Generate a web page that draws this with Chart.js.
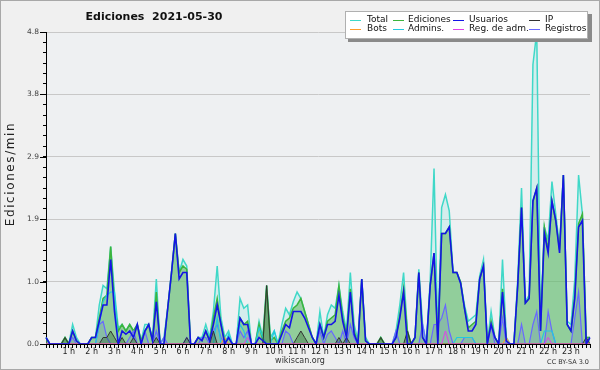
<!DOCTYPE html>
<html><head><meta charset="utf-8">
<script src="https://cdn.jsdelivr.net/npm/chart.js@4"></script>
<style>html,body{margin:0;padding:0;background:#f0f0f0;}canvas{display:block;}</style>
</head><body>
<canvas id="c" width="600" height="370"></canvas>
<script>
const chartTitle = 'Ediciones  2021-05-30';
const yAxisTitle = 'Ediciones/min';
const footerLeft = 'wikiscan.org';
const footerRight = 'CC BY-SA 3.0';
const hourLabels = ['1 h','2 h','3 h','4 h','5 h','6 h','7 h','8 h','9 h','10 h','11 h','12 h','13 h','14 h','15 h','16 h','17 h','18 h','19 h','20 h','21 h','22 h','23 h'];
const yTickLabels = ['0.0','1.0','1.9','2.9','3.8','4.8'];
const yMax = 4.8;
const yMinorPerMajor = 6;

// 10-minute slots of the day
const slots = [];
for (let h = 0; h < 24; h++) for (let m = 0; m < 60; m += 10) slots.push(h + ':' + String(m).padStart(2, '0'));

const total = [
 0.1,0,0,0,0,0.1,0,0.3,0.1,0,0,0,
 0.1,0.1,0.6,0.9,0.85,1.5,0.8,0.25,0.3,0.2,0.3,0.2,
 0.3,0.05,0.3,0.3,0.1,1.0,0,0.1,0.55,1.1,1.7,1.1,
 1.3,1.2,0,0,0.1,0.1,0.3,0.1,0.5,1.2,0.4,0.1,
 0.2,0,0,0.7,0.55,0.6,0,0,0.35,0.1,0.9,0.1,
 0.2,0,0.3,0.55,0.45,0.65,0.8,0.7,0.5,0.3,0.1,0,
 0.5,0.1,0.45,0.6,0.55,0.9,0.5,0.2,1.1,0.3,0.05,1.0,
 0.1,0,0,0,0.1,0,0,0,0.2,0.6,1.1,0.2,
 0,0.1,1.15,0.3,0,1.0,2.7,0.1,2.1,2.3,2.05,1.1,
 1.1,0.95,0.6,0.35,0.4,0.45,1.05,1.3,0,0.5,0.1,0,
 1.3,0.1,0,0,1.0,2.4,0.65,0.75,4.3,4.8,0.25,1.8,
 1.6,2.5,2.0,1.5,2.6,0.35,0.3,1.0,2.6,2.0,0.1,0.1
];
const ediciones = [
 0.1,0,0,0,0,0.1,0,0.2,0.05,0,0,0,
 0.1,0.1,0.4,0.7,0.75,1.5,0.6,0.2,0.3,0.2,0.3,0.2,
 0.3,0.05,0.2,0.3,0.05,0.8,0,0,0.55,1.1,1.7,1.1,
 1.2,1.15,0,0,0.1,0.05,0.2,0.05,0.4,0.7,0.3,0.05,
 0.1,0,0,0.4,0.3,0.35,0,0,0.3,0.05,0.9,0.05,
 0.1,0,0.2,0.35,0.4,0.55,0.6,0.7,0.5,0.3,0.1,0,
 0.3,0.1,0.35,0.4,0.45,0.9,0.4,0.15,0.85,0.2,0,1.0,
 0.05,0,0,0,0.1,0,0,0,0.1,0.45,0.85,0.2,
 0,0.1,1.1,0.1,0,0.9,1.4,0.05,1.7,1.7,1.8,1.1,
 1.1,0.95,0.55,0.25,0.3,0.35,1.0,1.2,0,0.35,0.1,0,
 0.85,0.05,0,0,0.9,2.1,0.63,0.7,2.2,2.4,0.2,1.8,
 1.45,2.2,1.9,1.45,2.6,0.3,0.2,0.75,1.85,2.0,0.1,0.1
];
const usuarios = [
 0.1,0,0,0,0,0,0,0.2,0.05,0,0,0,
 0.1,0.1,0.35,0.6,0.6,1.3,0.5,0,0.2,0.15,0.2,0.1,
 0.3,0,0.2,0.3,0.05,0.65,0,0,0.55,1.1,1.7,1.0,
 1.1,1.1,0,0,0.1,0.05,0.2,0.05,0.3,0.6,0.3,0,
 0.1,0,0,0.4,0.3,0.3,0,0,0.1,0.05,0,0,
 0,0,0.15,0.3,0.25,0.5,0.5,0.5,0.4,0.25,0.1,0,
 0.3,0.1,0.3,0.3,0.35,0.75,0.35,0.1,0.8,0.15,0,1.0,
 0.05,0,0,0,0,0,0,0,0.1,0.4,0.8,0,
 0,0.1,1.1,0.1,0,0.9,1.4,0,1.7,1.7,1.8,1.1,
 1.1,0.93,0.55,0.2,0.2,0.3,1.0,1.2,0,0.3,0.1,0,
 0.8,0.05,0,0,0.9,2.1,0.63,0.7,2.2,2.4,0.2,1.7,
 1.4,2.2,1.9,1.4,2.6,0.3,0.2,0.7,1.8,1.9,0,0.1
];
const ip = [
 0,0,0,0,0,0.1,0,0,0,0,0,0,
 0,0,0,0.1,0.1,0.2,0.1,0,0.1,0,0,0.1,
 0,0,0,0,0,0.1,0,0,0,0,0,0,
 0,0.1,0,0,0,0,0,0,0.2,0,0,0,
 0,0,0,0,0,0,0,0,0,0,0.9,0,
 0,0,0,0,0,0,0.1,0.2,0.1,0,0,0,
 0,0,0,0,0,0.1,0,0.1,0,0,0,0,
 0,0,0,0,0.1,0,0,0,0,0,0,0.2,
 0,0,0,0,0,0,0,0,0,0,0,0,
 0,0,0,0,0,0,0,0,0,0,0,0,
 0,0,0,0,0,0,0,0,0,0,0,0,
 0,0,0,0,0,0,0,0,0,0,0.1,0
];
const registros = [
 0,0,0,0,0,0,0,0.1,0,0,0,0,
 0,0,0.3,0.35,0.1,0,0,0,0,0,0.1,0.2,
 0,0,0.2,0,0,0.2,0,0.1,0,0,0,0,
 0,0.1,0,0,0,0.1,0.1,0,0.2,0.3,0.1,0,
 0,0,0,0.2,0.1,0.2,0,0,0,0,0,0,
 0,0,0,0.2,0.15,0,0,0,0,0,0,0,
 0.2,0,0.15,0.2,0.1,0,0.2,0,0.3,0.1,0,0,
 0,0,0,0,0,0,0,0,0.2,0,0,0,
 0,0,0,0.3,0,0,0.3,0.3,0.4,0.6,0.2,0,
 0,0,0.1,0.1,0.1,0,0,0,0,0.3,0,0,
 0.4,0,0,0,0,0.3,0,0,0.3,0.5,0,0,
 0.5,0.2,0,0,0,0,0,0.4,0.8,0,0,0
];
const admins = [
 0,0,0,0,0,0,0,0,0,0,0,0,
 0,0,0.3,0.65,0.75,0.8,0.8,0,0,0,0,0,
 0,0,0,0,0,0,0,0,0,0,0,0,
 0,0,0,0,0,0,0,0,0,0.4,0,0,
 0.15,0,0,0.3,0.2,0,0,0,0.25,0.1,0,0,
 0.2,0,0,0,0,0,0,0,0,0,0,0,
 0,0,0,0,0,0,0,0,0,0,0,0,
 0,0,0,0,0,0,0,0,0,0,0,0,
 0,0,0,0,0,0,0,0,0,0,0,0,
 0.1,0.1,0.1,0.1,0.1,0,0,0,0,0,0,0,
 0,0,0,0,0,0,0,0,0,0,0,0.2,
 0.2,0.2,0,0,0,0,0,0,0,0,0,0
];
const bots = [
 0,0,0,0,0,0,0,0,0,0,0,0,
 0,0,0,0,0,0,0,0,0,0,0,0,
 0,0,0,0,0,0,0,0,0,0,0,0,
 0,0,0,0,0,0,0,0,0,0,0,0.1,
 0,0,0,0,0,0,0,0,0,0,0,0,
 0,0,0,0,0,0,0,0,0,0,0,0,
 0,0,0,0,0,0,0,0,0,0,0,0,
 0,0,0,0,0,0,0,0,0,0,0,0,
 0,0,0,0,0,0,0,0,0,0,0,0,
 0,0,0,0,0,0,0,0,0,0,0,0,
 0,0.1,0,0,0,0,0,0,0,0,0,0,
 0,0,0,0,0,0,0,0,0,0,0,0
];
const regAdm = [
 0,0,0,0,0,0,0,0,0,0,0,0,
 0,0,0,0,0,0,0,0,0,0,0,0,
 0,0,0,0,0,0,0,0,0,0,0,0,
 0,0,0,0,0,0,0,0,0,0,0,0,
 0,0,0,0,0,0.1,0,0,0,0,0,0,
 0,0,0,0,0,0,0,0,0,0,0,0,
 0,0,0,0,0,0,0,0,0,0,0,0,
 0,0,0,0,0,0,0,0,0,0,0,0,
 0,0,0,0,0,0,0,0,0,0.2,0,0,
 0,0,0,0,0,0,0,0,0,0,0,0,
 0,0,0,0,0,0,0,0,0,0,0,0,
 0.1,0,0,0,0,0,0,0,0,0,0,0
];

const yTickValues = [];
for (let k = 0; k <= (yTickLabels.length - 1) * yMinorPerMajor; k++) yTickValues.push(yMax * k / ((yTickLabels.length - 1) * yMinorPerMajor));

function ds(label, data, color, width, order, fillColor) {
  return {
    label, data, borderColor: color, borderWidth: width, order,
    fill: fillColor ? 'origin' : false, backgroundColor: fillColor || color,
    pointRadius: 0, tension: 0
  };
}
const datasets = [
  ds('Total', total, '#3fd8c8', 1.5, 8, 'rgba(64,224,208,0.15)'),
  ds('Ediciones', ediciones, '#3cb43c', 1.5, 7, 'rgba(100,185,100,0.6)'),
  ds('Registros', registros, '#6868ff', 1.2, 6, 'rgba(90,90,230,0.15)'),
  ds('Admins.', admins, '#22c8e0', 1.2, 5, null),
  ds('IP', ip, '#333333', 1, 4, 'rgba(20,70,20,0.3)'),
  ds('Bots', bots, '#ff9a2a', 1, 3, null),
  ds('Reg. de adm.', regAdm, '#e040e8', 1, 2, null),
  ds('Usuarios', usuarios, '#1414e6', 1.6, 1, null)
];
const legendRows = [['Total','Ediciones','Usuarios','IP'],['Bots','Admins.','Reg. de adm.','Registros']];

const decor = {
  id: 'decor',
  beforeDraw(chart) {
    const {ctx, chartArea: a} = chart;
    ctx.save();
    ctx.fillStyle = '#f0f0f0'; ctx.fillRect(0, 0, chart.width, chart.height);
    ctx.fillStyle = '#eef0f2'; ctx.fillRect(a.left, a.top, a.right - a.left, a.bottom - a.top);
    ctx.restore();
  },
  afterDraw(chart) {
    const {ctx, chartArea: a} = chart;
    ctx.save();
    // major y ticks longer
    ctx.strokeStyle = '#000'; ctx.lineWidth = 1;
    const ys = chart.scales.y;
    yTickValues.forEach((v, i) => {
      if (i % yMinorPerMajor !== 0) return;
      const y = Math.round(ys.getPixelForValue(v)) + 0.5;
      ctx.beginPath(); ctx.moveTo(a.left - 6, y); ctx.lineTo(a.left, y); ctx.stroke();
    });
    // frame
    ctx.strokeStyle = '#a8a8a8';
    ctx.strokeRect(0.5, 0.5, chart.width - 1, chart.height - 1);
    // title
    ctx.fillStyle = '#111';
    ctx.font = 'bold 11px "DejaVu Sans"';
    ctx.textAlign = 'center'; ctx.textBaseline = 'middle';
    ctx.fillText(chartTitle, 154, 17);
    // y axis title
    ctx.save();
    ctx.translate(11, 174); ctx.rotate(-Math.PI / 2);
    ctx.font = '12px "DejaVu Sans"';
    ctx.letterSpacing = '1.6px';
    ctx.fillStyle = '#222';
    ctx.fillText(yAxisTitle, 0, 0);
    ctx.restore();
    // footer
    ctx.fillStyle = '#333';
    ctx.font = '8px "DejaVu Sans"';
    ctx.textAlign = 'center';
    ctx.fillText(footerLeft, 300, 361);
    ctx.font = '6.5px "DejaVu Sans"';
    ctx.textAlign = 'right';
    ctx.fillText(footerRight, 589, 362);
    // legend box
    ctx.fillStyle = '#8a8a8a';
    ctx.fillRect(348, 14, 244, 28);
    ctx.fillStyle = '#fff';
    ctx.fillRect(345, 11, 243, 28);
    ctx.strokeStyle = '#b0b0b0';
    ctx.strokeRect(345.5, 11.5, 242, 27);
    const lineX = [350, 393, 453, 529], textX = [367, 408, 469, 545], rowY = [19.5, 29];
    ctx.font = '9px "DejaVu Sans"';
    ctx.textAlign = 'left'; ctx.textBaseline = 'middle';
    legendRows.forEach((row, r) => row.forEach((name, c) => {
      const d = chart.data.datasets.find(x => x.label === name);
      ctx.strokeStyle = d.borderColor; ctx.lineWidth = 1;
      const y = Math.round(rowY[r]) + 0.5;
      ctx.beginPath(); ctx.moveTo(lineX[c], y); ctx.lineTo(lineX[c] + 11, y); ctx.stroke();
      ctx.fillStyle = '#111';
      ctx.fillText(name, textX[c], rowY[r]);
    }));
    ctx.restore();
  }
};

new Chart(document.getElementById('c'), {
  type: 'line',
  data: { labels: slots, datasets },
  options: {
    responsive: false, animation: false, devicePixelRatio: 1,
    layout: { padding: { top: 32, right: 10, left: 0, bottom: 0 } },
    plugins: { legend: { display: false }, title: { display: false }, tooltip: { enabled: false } },
    scales: {
      x: {
        type: 'category', offset: false,
        grid: { display: true, drawOnChartArea: false, drawTicks: true, tickLength: 4, tickColor: '#000', color: '#000' },
        border: { display: true, color: '#000', width: 1 },
        ticks: {
          autoSkip: false, maxRotation: 0, minRotation: 0, padding: -1, color: '#222',
          font: { family: 'DejaVu Sans', size: 8 },
          callback: (v, i) => (i % 6 === 0 && i > 0) ? hourLabels[i / 6 - 1] : ''
        },
        afterFit: s => { s.height = 26; }
      },
      y: {
        min: 0, max: yMax,
        afterBuildTicks: s => { s.ticks = yTickValues.map(v => ({ value: v })); },
        grid: {
          drawTicks: true, tickLength: 3, tickColor: '#000',
          color: c => (c.index % yMinorPerMajor === 0) ? '#c8c8c8' : 'rgba(0,0,0,0)'
        },
        border: { display: true, color: '#000', width: 1 },
        ticks: {
          autoSkip: false, padding: 4, color: '#444',
          font: { family: 'DejaVu Sans', size: 7.5 },
          callback: (v, i) => (i % yMinorPerMajor === 0) ? yTickLabels[i / yMinorPerMajor] : ''
        },
        afterFit: s => { s.width = 46; }
      }
    }
  },
  plugins: [decor]
});
</script>
</body></html>
